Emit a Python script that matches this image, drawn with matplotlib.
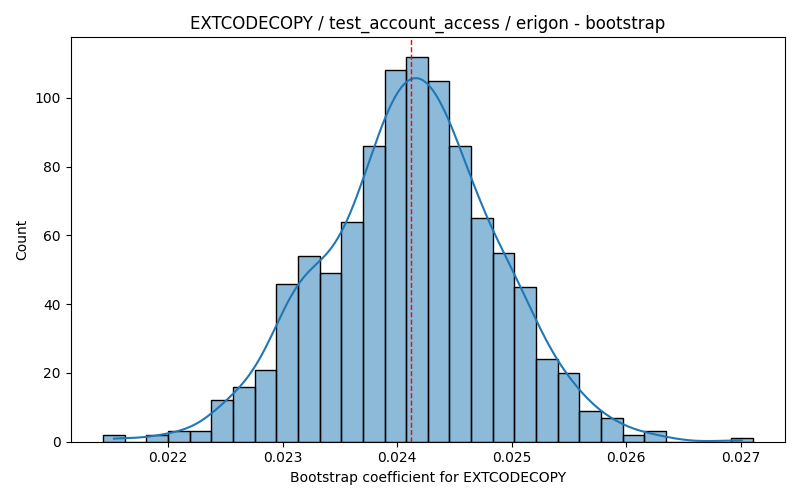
import numpy as np
import pandas as pd
import matplotlib
matplotlib.use("Agg")
import matplotlib.pyplot as plt
import seaborn as sns

# histogram: 30 equal bins
BIN_LO = 0.021433
BIN_HI = 0.027105
COUNTS = [2, 0, 2, 3, 3, 12, 16, 21, 46, 54,
          49, 64, 86, 108, 112, 105, 86, 65, 55, 45,
          24, 20, 9, 7, 2, 3, 0, 0, 0, 1]
MEAN_LINE = 0.02412

TITLE = "EXTCODECOPY / test_account_access / erigon - bootstrap"
XLABEL = "Bootstrap coefficient for EXTCODECOPY"

edges = np.linspace(BIN_LO, BIN_HI, len(COUNTS) + 1)
df = pd.DataFrame({"coef": (edges[:-1] + edges[1:]) / 2, "n": COUNTS})

fig, ax = plt.subplots(figsize=(8, 5), dpi=100)
# weighted kde uses an effective n far below 1000, so narrow the bandwidth back
sns.histplot(data=df, x="coef", weights="n", bins=len(COUNTS),
             binrange=(BIN_LO, BIN_HI), kde=True,
             kde_kws={"bw_adjust": 0.42}, ax=ax)
ax.axvline(MEAN_LINE, color="red", linestyle="--", linewidth=1)
ax.set_title(TITLE)
ax.set_xlabel(XLABEL)
ax.set_ylabel("Count")

plt.tight_layout()
plt.savefig("out.png")
